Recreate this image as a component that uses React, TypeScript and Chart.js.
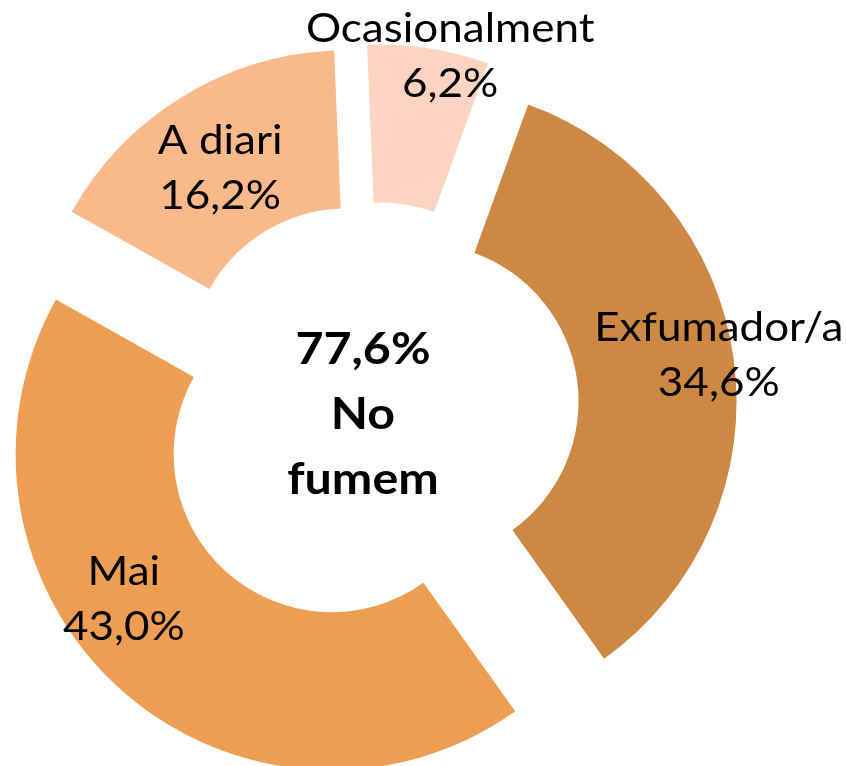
import React, { useEffect, useRef } from "react";
import { Chart, registerables } from "chart.js";

Chart.register(...registerables);

// Data
const categories = ["Ocasionalment", "Exfumador/a", "Mai", "A diari"];
const values = [6.2, 34.6, 43.0, 16.2];
const colors = ["#FCD4C1", "#CD8843", "#ED9E53", "#F9B98B"];
const nonSmokerCategories = ["Exfumador/a", "Mai"];
const centerLines = ["No", "fumem"];

// Styling: explosion distance per slice (px) and label placement (distance px, angle deg from top, clockwise)
const explode = [48, 48, 62, 49];
const labelDist = [313, 302, 253, 236];
const labelAngle = [12.9, 80.9, 235.2, 327.4];

const fmt = (v: number) => v.toFixed(1).replace(".", ",") + "%";

export default function App() {
  const ref = useRef<HTMLCanvasElement>(null);
  useEffect(() => {
    const canvas = ref.current!;
    const explodePlugin = {
      id: "explodeSlices",
      afterDatasetUpdate(chart: any, args: any) {
        const arcs = args.meta.data;
        arcs.forEach((arc: any, i: number) => {
          const mid = (arc.startAngle + arc.endAngle) / 2;
          const d = explode[i] || 0;
          arc.x += Math.cos(mid) * d;
          arc.y += Math.sin(mid) * d;
        });
      },
    };
    const stretch = 1.1;
    const drawText = (ctx: any, t: string, x: number, y: number) => {
      ctx.save();
      ctx.translate(x, y);
      ctx.scale(stretch, 1);
      ctx.fillText(t, 0, 0);
      ctx.restore();
    };
    const labelPlugin = {
      id: "sliceLabels",
      afterDraw(chart: any) {
        const ctx = chart.ctx;
        const arcs = chart.getDatasetMeta(0).data;
        ctx.save();
        ctx.fillStyle = "#000000";
        ctx.textAlign = "center";
        ctx.textBaseline = "alphabetic";
        const fs = 40;
        const capH = fs * 0.72;
        const lh = 55;
        ctx.font = `${fs}px Lato`;
        arcs.forEach((arc: any, i: number) => {
          const a = (labelAngle[i] * Math.PI) / 180;
          const x = arc.x + labelDist[i] * Math.sin(a);
          const y = arc.y - labelDist[i] * Math.cos(a);
          drawText(ctx, categories[i], x, y - lh / 2 + capH / 2);
          drawText(ctx, fmt(values[i]), x, y + lh / 2 + capH / 2);
        });
        // center text
        const total = values
          .filter((_, i) => nonSmokerCategories.includes(categories[i]))
          .reduce((s, v) => s + v, 0);
        const area = chart.chartArea;
        const cx = (area.left + area.right) / 2 - 10;
        const cy = (area.top + area.bottom) / 2 + 5;
        const bfs = 44;
        const bcap = bfs * 0.72;
        const blh = 65;
        ctx.font = `bold ${bfs}px Lato`;
        const lines = [fmt(total), ...centerLines];
        lines.forEach((t, k) => {
          const y = cy + (k - 1) * blh + bcap / 2;
          drawText(ctx, t, cx, y);
        });
        ctx.restore();
      },
    };
    const chart = new Chart(canvas, {
      type: "doughnut",
      data: {
        labels: categories,
        datasets: [
          {
            data: values,
            backgroundColor: colors,
            borderWidth: 0,
          },
        ],
      },
      options: {
        responsive: false,
        animation: false,
        events: [],
        rotation: -2.4,
        radius: 316,
        cutout: "50%",
        layout: { padding: { left: 0, right: 100, top: 50, bottom: 0 } },
        plugins: {
          legend: { display: false },
          tooltip: { enabled: false },
        },
      },
      plugins: [explodePlugin, labelPlugin],
    });
    return () => chart.destroy();
  }, []);
  return (
    <div style={{ position: "absolute", left: 0, top: 0, width: 846, height: 766, background: "#ffffff" }}>
      <canvas ref={ref} width={846} height={766} style={{ display: "block" }} />
    </div>
  );
}
